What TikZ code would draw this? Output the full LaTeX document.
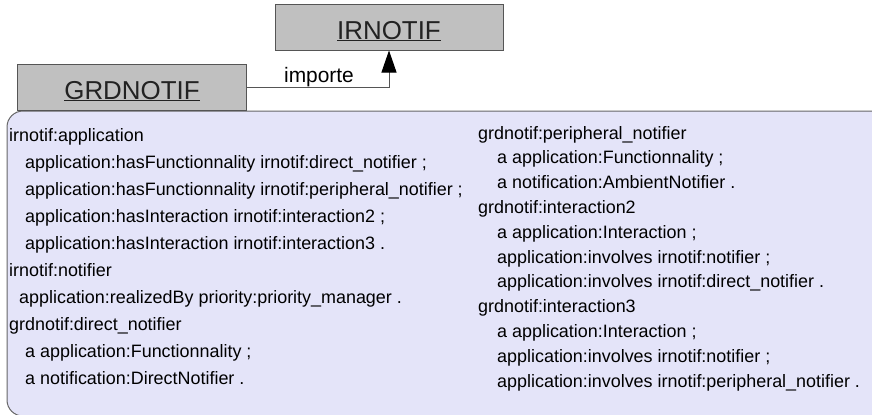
\documentclass[tikz,border=0pt]{standalone}
\usepackage{fontspec}
\setmainfont{Liberation Sans}
\usetikzlibrary{arrows.meta}
\definecolor{boxgray}{HTML}{C0C0C0}
\definecolor{edgegray}{HTML}{555555}
\definecolor{panelfill}{HTML}{E4E4F9}
\definecolor{paneledge}{HTML}{666666}
\definecolor{titletext}{HTML}{222222}
\begin{document}
\begin{tikzpicture}[x=1bp,y=-1bp,
  titlebox/.style={draw=edgegray, fill=boxgray, line width=1bp, inner sep=0pt,
    anchor=base, minimum width=228bp, text height=35bp, text depth=11bp,
    text=titletext, font=\fontsize{26}{28}\selectfont},
  conn/.style={draw=edgegray, line width=1bp},
  lbl/.style={anchor=base, inner sep=0pt, font=\fontsize{21}{24}\selectfont},
  body/.style={anchor=base west, inner sep=0pt, font=\fontsize{18}{20}\selectfont},
  panel/.style={draw=paneledge, fill=panelfill, line width=1bp, rounded corners=16bp}]
\useasboundingbox (0,0) rectangle (872,414);
\begin{scope}
  \clip (0,0) rectangle (872,414);
  \path[panel] (7,111) rectangle (900,416);
\end{scope}
\node[titlebox] (ir) at (389,39) {\underline{IRNOTIF}};
\node[titlebox] (grd) at (132,99) {\underline{GRDNOTIF}};
\draw[conn, -{Triangle[length=22bp,width=15bp,fill=black,color=black]}] (grd.east) -| (ir.south);
\node[lbl] (imp) at (319,82) {importe};
% left column
\node[body] (l1) at (9,141) {irnotif:application};
\node[body] (l2) at (25,168) {application:hasFunctionnality irnotif:direct\_notifier ;};
\node[body] (l3) at (25,195) {application:hasFunctionnality irnotif:peripheral\_notifier ;};
\node[body] (l4) at (25,222) {application:hasInteraction irnotif:interaction2 ;};
\node[body] (l5) at (25,249) {application:hasInteraction irnotif:interaction3 .};
\node[body] (l6) at (9,276) {irnotif:notifier};
\node[body] (l7) at (19,303) {application:realizedBy priority:priority\_manager .};
\node[body] (l8) at (9,330) {grdnotif:direct\_notifier};
\node[body] (l9) at (25,357) {a application:Functionnality ;};
\node[body] (l10) at (25,384) {a notification:DirectNotifier .};
% right column
\node[body] (r1) at (478,139) {grdnotif:peripheral\_notifier};
\node[body] (r2) at (497,163.8) {a application:Functionnality ;};
\node[body] (r3) at (497,188.6) {a notification:AmbientNotifier .};
\node[body] (r4) at (478,213.4) {grdnotif:interaction2};
\node[body] (r5) at (497,238.2) {a application:Interaction ;};
\node[body] (r6) at (497,263) {application:involves irnotif:notifier ;};
\node[body] (r7) at (497,287.8) {application:involves irnotif:direct\_notifier .};
\node[body] (r8) at (478,312.6) {grdnotif:interaction3};
\node[body] (r9) at (497,337.4) {a application:Interaction ;};
\node[body] (r10) at (497,362.2) {application:involves irnotif:notifier ;};
\node[body] (r11) at (497,387) {application:involves irnotif:peripheral\_notifier .};
\end{tikzpicture}
\end{document}
